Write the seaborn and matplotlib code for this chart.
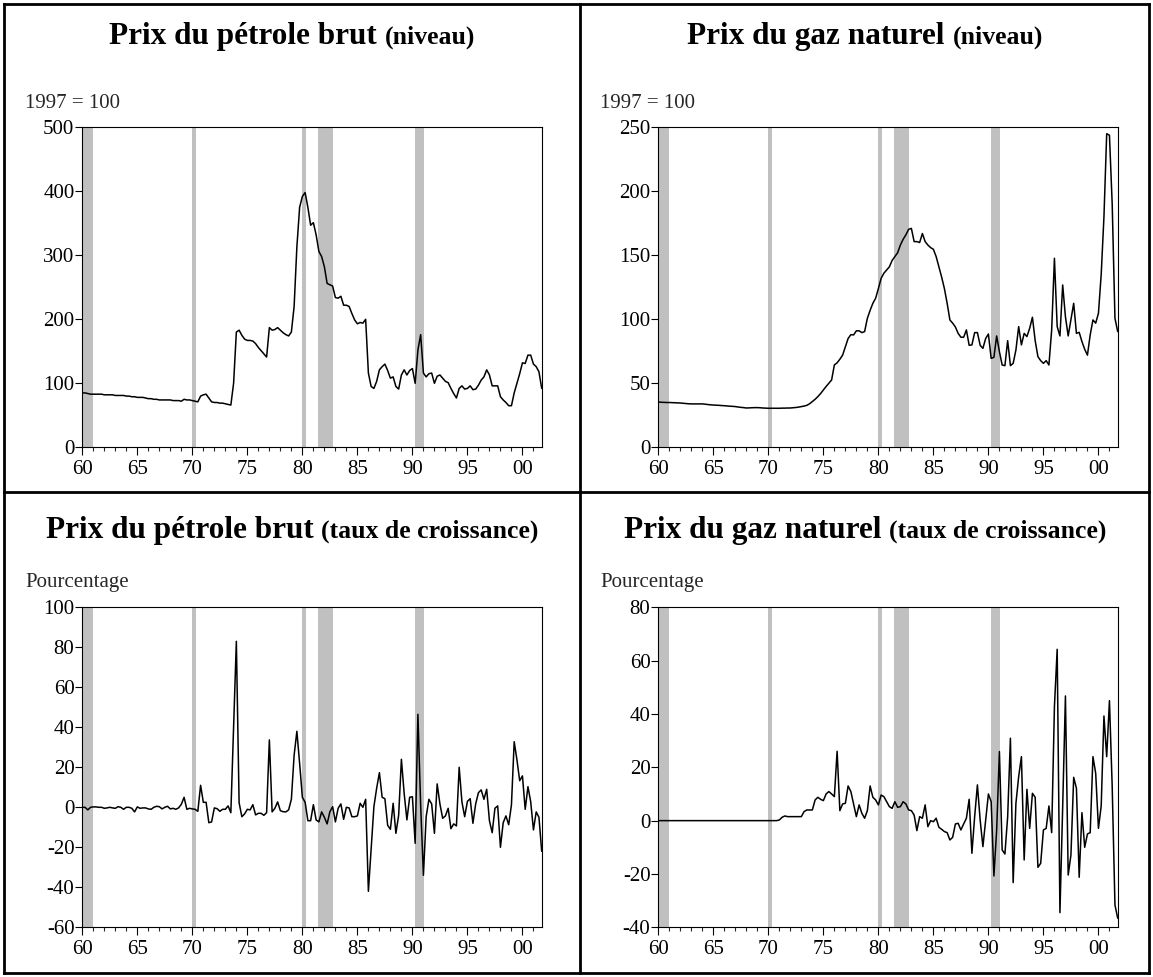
import numpy as np
import pandas as pd
import matplotlib
matplotlib.use("Agg")
import matplotlib.pyplot as plt
from matplotlib.lines import Line2D
from matplotlib.ticker import FixedLocator, MultipleLocator
import seaborn as sns

# ---------------- data ----------------
quarters = pd.period_range("1960Q1", "2001Q4", freq="Q")

oil_level = [
    85, 85, 84, 83,  83, 83, 83, 83,  82, 82, 82, 82,  81, 81, 81, 81,
    80, 80, 79, 79,  78, 78, 78, 77,  76, 76, 75, 75,  74, 74, 74, 74,
    74, 73, 73, 73,  72, 75, 74, 74,  73, 72, 71, 80,  82, 83, 77, 71,
    70, 70, 69, 69,  68, 67, 66, 100, 180, 183, 175, 169, 167, 167, 166, 162,
    156, 151, 146, 141, 187, 183, 184, 187, 183, 179, 176, 174, 180, 220, 313, 375,
    392, 398, 375, 347, 351, 332, 306, 298, 282, 256, 254, 252, 234, 233, 236, 222,
    222, 220, 209, 199, 193, 195, 194, 200, 116, 95, 92, 103, 121, 126, 130, 120,
    108, 110, 95, 91, 113, 121, 113, 120, 123, 100, 152, 176, 116, 110, 115, 116,
    100, 111, 113, 108, 103, 101, 92, 84, 77, 92, 96, 91, 92, 96, 90, 91,
    97, 105, 110, 121, 113, 96, 96, 96, 79, 74, 70, 65, 65, 85, 100, 115,
    132, 131, 144, 144, 130, 126, 118, 92,
]

gas_level = [
    35.4, 35.2, 35.1, 35.0, 35.0, 34.9, 34.8, 34.7, 34.6, 34.4, 34.2, 34.0,
    33.9, 33.9, 33.9, 33.9, 33.9, 33.7, 33.4, 33.2, 33.0, 32.9, 32.8, 32.6,
    32.5, 32.3, 32.1, 32.0, 31.8, 31.5, 31.2, 31.0, 30.7, 30.8, 30.9, 31.0,
    31.0, 30.9, 30.7, 30.6, 30.5, 30.5, 30.5, 30.5, 30.5, 30.6, 30.6, 30.7,
    30.7, 30.9, 31.1, 31.4, 31.8, 32.2, 32.8, 34.0, 35.7, 37.5, 39.6, 42.0,
    44.8, 47.5, 50.0, 52.6, 64.3, 66.0, 68.8, 72.0, 78.6, 85.0, 88.0, 87.8,
    91.0, 91.0, 89.6, 90.4, 100.8, 107.0, 112.5, 116.4, 124.0, 132.0, 136.0, 138.5,
    141.0, 146.0, 149.0, 152.0, 158.0, 162.5, 166.0, 170.3, 171.0, 160.7, 160.7, 160.0,
    167.0, 160.7, 158.0, 156.0, 154.7, 149.0, 141.0, 133.0, 124.0, 112.5, 99.5, 97.0,
    94.0, 89.0, 86.0, 86.0, 91.7, 79.7, 80.0, 89.6, 89.6, 79.7, 77.3, 85.0,
    88.5, 69.5, 70.3, 87.0, 74.7, 64.3, 63.8, 83.3, 63.8, 65.6, 76.0, 94.3,
    80.0, 89.0, 86.5, 93.0, 101.6, 83.3, 70.8, 67.7, 65.6, 67.7, 64.3, 91.7,
    147.7, 94.3, 87.0, 126.8, 102.0, 87.0, 99.5, 112.5, 89.0, 89.8, 82.6, 76.6,
    72.0, 87.8, 99.5, 97.0, 104.7, 135.0, 180.0, 245.0, 243.8, 190.0, 100.8, 90.4,
]

oil_growth = [
    0, 0, -1.3, 0,  0.2, 0.2, 0, 0,  -0.5, -0.3, 0, -0.3,  -0.5, 0.3, 0, -1,
    0, 0, -0.5, -2.3,  0.2, -0.5, -0.3, -0.3,  -0.8, -1, 0, 0.5,  0.3, -0.8, 0, 0.5,
    -0.8, -0.5, -1, -0.3,  1.5, 5, -1, -0.5,  -0.8, -1, -2, 11,  2.5, 2.5, -7.7, -7.3,
    -0.3, -0.7, -2, -1,  -1, 0.7, -2.7, 40,  83, 2.3, -4.7, -3.3,  -1, -1.3, 1.3, -3.8,
    -3, -3, -4, -2.7,  33.7, -2.3, -0.5, 2.7,  -1.7, -2.2, -2.3, -1.3,  4, 26, 38, 22,
    5, 2.5, -6.7, -6.7,  1.3, -6.3, -7.3, -2.3,  -5, -8.3, -2.2, 0.3,  -7.3, -0.5, 1.7, -6,
    0, -0.3, -4.7, -4.7,  -4.3, 2, 0, 4,  -42, -21, 0.3, 9.5,  17.3, 5, 4.3, -9,
    -11, 2, -13, -4,  24, 7, -6.3, 5,  5.3, -18, 46.5, 1,  -34, -4.7, 4, 1.7,
    -13, 11.7, 1.7, -5.5,  -4.3, -0.5, -10.7, -8.3,  -9.3, 20, 2.7, -4.7,  3, 4.3, -8, 1.7,
    7.3, 8.7, 4, 9,  -6.7, -12.7, -0.5, 0.7,  -20, -7.7, -4.3, -8.7,  1.2, 32.8, 23.7, 13.3,
    15.7, -1, 10.3, 2.8,  -11.3, -2.3, -5, -22,
]

gas_growth = [0.0] * 44 + [
    0.25, 1.25, 1.75, 1.5,  1.5, 1.5, 1.5, 1.5,  1.5, 3.4, 4, 4,  4, 7.75, 8.75, 8,
    7.5, 10, 10.9, 10,  9, 26, 3.75, 6.25,  6.5, 13, 10.9, 6.25,  1.5, 5.9, 2.75, 0.9,
    3.75, 13, 8.75, 7.75,  5.9, 9.6, 9, 7.1,  5.25, 4.6, 7.1, 5,  5.25, 7.1, 6.25, 4,
    3.75, 2.1, -3.75, 1.5,  0.9, 5.9, -2.25, 0,  -0.4, 0.9, -2.5, -3.25,  -4.1, -4.5, -7.25, -6.25,
    -1.25, -1, -3.5, -1.25,  0.9, 8, -12.25, 1.5,  13.4, 0.25, -9.75, 0.25,  10, 7.1, -20.75, -3.5,
    25.9, -11, -12.5, 1.5,  30.9, -23.25, 6.5, 16.5,  24, -14.75, 11.75, -2.9,  10.25, 8.75, -17.5, -16,
    -3.5, -2.9, 5.5, -4.5,  42.75, 64.25, -34.5, 5.25,  46.75, -20.4, -12.9, 16.25,  12.1, -21.25, 3, -10,
    -5, -4.5, 24, 17.75,  -2.9, 5.5, 39.25, 24,  45, 12.75, -31.6, -36.6,
]

recessions = [(1960.0, 1961.0), (1970.0, 1970.33), (1979.96, 1980.33),
              (1981.46, 1982.8), (1990.25, 1991.06)]

titles = [("Prix du pétrole brut", "(niveau)"),
          ("Prix du gaz naturel", "(niveau)"),
          ("Prix du pétrole brut", "(taux de croissance)"),
          ("Prix du gaz naturel", "(taux de croissance)")]
unit_labels = ["1997 = 100", "1997 = 100", "Pourcentage", "Pourcentage"]
y_limits = [(0, 500), (0, 250), (-60, 100), (-40, 80)]
y_steps = [100, 50, 20, 20]
xtick_years = [1960, 1965, 1970, 1975, 1980, 1985, 1990, 1995, 2000]
xtick_labels = ["60", "65", "70", "75", "80", "85", "90", "95", "00"]

# ---------------- frame ----------------
df = pd.DataFrame({
    "t": quarters.year + (quarters.quarter - 1) / 4.0,
    "oil_level": oil_level,
    "gas_level": gas_level,
    "oil_growth": oil_growth,
    "gas_growth": gas_growth,
})
series_cols = ["oil_level", "gas_level", "oil_growth", "gas_growth"]

sns.set_style("ticks")
plt.rcParams["font.family"] = ["Liberation Serif", "DejaVu Serif"]
plt.rcParams["axes.linewidth"] = 0.8
plt.rcParams["axes.unicode_minus"] = False

W, H = 1153, 977
fig = plt.figure(figsize=(W / 100, H / 100), dpi=100)

# axes rectangles in pixels (left, top, right, bottom)
boxes = [(82.3, 127.3, 541.7, 447.3), (658.3, 127.3, 1117.7, 447.3),
         (82.3, 607.3, 541.7, 927.3), (658.3, 607.3, 1117.7, 927.3)]
title_centers = [(292, 44), (865, 44), (292, 538), (865, 538)]
unit_pos = [(25, 108), (600, 108), (25, 587), (600, 587)]

renderer = fig.canvas.get_renderer()

def two_part_title(cx, cy, big, small, big_size=22.5, small_size=18.5):
    t1 = fig.text(0, 1 - cy / H, big, fontsize=big_size, fontweight="bold",
                  va="baseline", ha="left", color="black")
    t2 = fig.text(0, 1 - cy / H, small, fontsize=small_size, fontweight="bold",
                  va="baseline", ha="left", color="black")
    w1 = t1.get_window_extent(renderer).width
    w2 = t2.get_window_extent(renderer).width
    gap = big_size * 0.25 * 100 / 72
    x0 = cx - (w1 + gap + w2) / 2
    t1.set_x(x0 / W)
    t2.set_x((x0 + w1 + gap) / W)

for i, col in enumerate(series_cols):
    l, t, r, b = boxes[i]
    ax = fig.add_axes([l / W, 1 - b / H, (r - l) / W, (b - t) / H])
    for (s, e) in recessions:
        ax.axvspan(s, e, color="#c0c0c0", lw=0, zorder=0)
    sns.lineplot(data=df, x="t", y=col, ax=ax, color="black", lw=1.1,
                 estimator=None, zorder=3)
    ax.set_xlim(1960, 2001.75)
    ax.set_ylim(*y_limits[i])
    ax.yaxis.set_major_locator(MultipleLocator(y_steps[i]))
    ax.xaxis.set_major_locator(FixedLocator(xtick_years))
    ax.set_xticklabels(xtick_labels)
    ax.xaxis.set_minor_locator(MultipleLocator(1))
    ax.set_xlabel("")
    ax.set_ylabel("")
    ax.tick_params(axis="x", which="major", direction="out", length=5.5, width=0.8,
                   labelsize=15, pad=3.5, colors="black")
    ax.tick_params(axis="x", which="minor", direction="out", length=3.0, width=0.8)
    ax.tick_params(axis="y", which="major", direction="out", length=4.7, width=0.8,
                   labelsize=15, pad=1, colors="black")
    for sp in ax.spines.values():
        sp.set_visible(True)
        sp.set_color("black")
        sp.set_linewidth(0.8)
    big, small = titles[i]
    two_part_title(*title_centers[i], big, small)
    ux, uy = unit_pos[i]
    fig.text(ux / W, 1 - uy / H, unit_labels[i], fontsize=15, va="baseline", ha="left")

# outer frame and dividers
lw = 2.0
def fline(x0, y0, x1, y1):
    fig.add_artist(Line2D([x0 / W, x1 / W], [1 - y0 / H, 1 - y1 / H], color="black",
                          lw=lw, transform=fig.transFigure, solid_capstyle="projecting"))

fline(4, 4, 1149, 4)
fline(4, 973, 1149, 973)
fline(4, 4, 4, 973)
fline(1149, 4, 1149, 973)
fline(580, 4, 580, 973)
fline(4, 492, 1149, 492)

fig.savefig("out.png", dpi=100)
